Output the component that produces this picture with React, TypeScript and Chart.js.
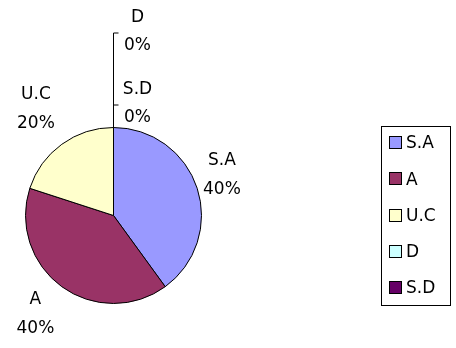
import { useEffect, useRef } from "react";
import { Chart, ArcElement, PieController } from "chart.js";

Chart.register(ArcElement, PieController);

// Survey answer shares (percent)
const categories = ["S.A", "A", "U.C", "D", "S.D"];
const percents = [40, 40, 20, 0, 0];
const sliceColors = ["#9999FF", "#993366", "#FFFFCC", "#CCFFFF", "#660066"];

const FONT = '17px "DejaVu Sans"';
const LINE_GAP = 29;

// Radial distance of each outside label from the pie centre, plus a small nudge
const labelDistance = [114, 126, 132];
const labelNudge: [number, number][] = [[0, -5], [-4, -3], [0, 0]];
// Zero-size slices get stacked labels with leader lines running up from the rim
const leaderRise = [0, 0, 0, 95, 23];

function pctText(v: number, total: number) {
  return Math.round((v / total) * 100) + "%";
}

const pieLabels = {
  id: "pieLabels",
  afterDatasetsDraw(chart: any) {
    const ctx: CanvasRenderingContext2D = chart.ctx;
    const meta = chart.getDatasetMeta(0);
    const values: number[] = chart.data.datasets[0].data;
    const names: string[] = chart.data.labels;
    const total = values.reduce((a, b) => a + b, 0);
    ctx.save();
    ctx.font = FONT;
    ctx.fillStyle = "#000";
    ctx.textAlign = "center";
    ctx.textBaseline = "middle";
    meta.data.forEach((arc: any, i: number) => {
      const { x, y, startAngle, endAngle, outerRadius } = arc.getProps(
        ["x", "y", "startAngle", "endAngle", "outerRadius"],
        true
      );
      const txt = pctText(values[i], total);
      if (values[i] > 0) {
        const mid = (startAngle + endAngle) / 2;
        const d = labelDistance[i];
        const cx = x + Math.cos(mid) * d + labelNudge[i][0];
        const cy = y + Math.sin(mid) * d + labelNudge[i][1];
        ctx.fillText(names[i], cx, cy - LINE_GAP / 2);
        ctx.fillText(txt, cx, cy + LINE_GAP / 2);
      } else {
        const px = x + Math.cos(startAngle) * outerRadius;
        const py = y + Math.sin(startAngle) * outerRadius;
        const ey = py - leaderRise[i];
        ctx.strokeStyle = "#000";
        ctx.lineWidth = 1;
        ctx.beginPath();
        ctx.moveTo(Math.round(px) + 0.5, py);
        ctx.lineTo(Math.round(px) + 0.5, ey + 0.5);
        ctx.lineTo(Math.round(px) + 5.5, ey + 0.5);
        ctx.stroke();
        const cx = px + 24;
        ctx.fillText(names[i], cx, ey - 15);
        ctx.fillText(txt, cx, ey + 13);
      }
    });
    ctx.restore();
  },
};

const boxLegend = {
  id: "boxLegend",
  afterDraw(chart: any) {
    const ctx: CanvasRenderingContext2D = chart.ctx;
    const names: string[] = chart.data.labels;
    const colors: string[] = chart.data.datasets[0].backgroundColor;
    const left = 381, top = 126, w = 69, h = 179;
    const rowGap = 36.25;
    ctx.save();
    ctx.strokeStyle = "#000";
    ctx.lineWidth = 1;
    ctx.strokeRect(left + 0.5, top + 0.5, w, h);
    ctx.font = FONT;
    ctx.textAlign = "left";
    ctx.textBaseline = "middle";
    names.forEach((name, i) => {
      const cy = top + 17 + i * rowGap;
      ctx.fillStyle = colors[i];
      ctx.fillRect(left + 9, Math.round(cy - 6), 11, 11);
      ctx.strokeRect(left + 8.5, Math.round(cy - 6) - 0.5, 12, 12);
      ctx.fillStyle = "#000";
      ctx.fillText(name, left + 25, cy + 1);
    });
    ctx.restore();
  },
};

export default function App() {
  const ref = useRef<HTMLCanvasElement>(null);
  useEffect(() => {
    if (!ref.current) return;
    const chart = new Chart(ref.current, {
      type: "pie",
      data: {
        labels: categories,
        datasets: [
          {
            data: percents,
            backgroundColor: sliceColors,
            borderColor: "#000",
            borderWidth: 1,
          },
        ],
      },
      options: {
        responsive: false,
        animation: false,
        devicePixelRatio: 1,
        layout: { padding: { left: 25, right: 254, top: 127, bottom: 44 } },
        plugins: { legend: { display: false }, tooltip: { enabled: false } },
      },
      plugins: [pieLabels, boxLegend],
    });
    return () => chart.destroy();
  }, []);
  return (
    <div style={{ position: "fixed", left: 0, top: 0, width: 456, height: 348, background: "#fff" }}>
      <canvas ref={ref} width={456} height={348} />
    </div>
  );
}
